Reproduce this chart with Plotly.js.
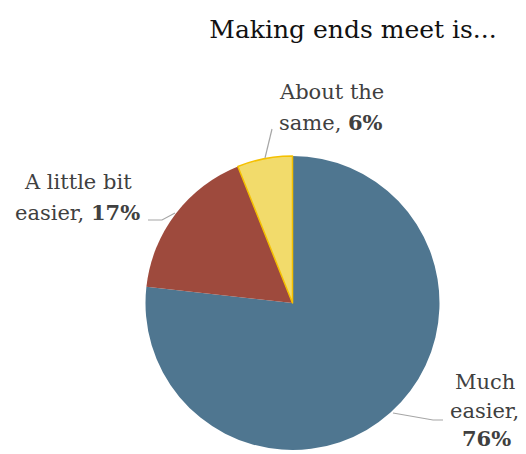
<!DOCTYPE html>
<html>
<head>
<meta charset="utf-8">
<script src="https://cdn.plot.ly/plotly-3.0.1.min.js"></script>
<style>
  html, body { margin: 0; padding: 0; background: #fff; }
  #chart { width: 526px; height: 454px; }
</style>
</head>
<body>
<div id="chart"></div>
<script>
const categories = ["Much easier", "A little bit easier", "About the same"];
const values = [76, 17, 6];
const colors = ["#4f7690", "#9e4a3d", "#f2db6b"];
const lineColors = ["rgba(0,0,0,0)", "rgba(0,0,0,0)", "#f5c000"];
const titleText = "Making ends meet is...";

const W = 526, H = 454;
const px = x => x / W;
const py = y => 1 - y / H;

const FS = 21;
const labelFont = { family: "DejaVu Serif, Georgia, serif", size: FS, color: "#404040" };

const trace = {
  type: "pie",
  labels: categories,
  values: values,
  sort: false,
  direction: "clockwise",
  rotation: 0,
  textinfo: "none",
  hoverinfo: "label+percent",
  marker: { colors: colors, line: { color: lineColors, width: [0, 0, 1.5] } },
  domain: { x: [px(292.5 - 147), px(292.5 + 147)], y: [py(450), py(156)] },
  showlegend: false
};

// one annotation per text line, placed by baseline
function line(text, x, baseline) {
  return { text: text, x: px(x), y: py(baseline - 0.36 * FS), xref: "paper", yref: "paper",
           showarrow: false, xanchor: "center", yanchor: "middle", align: "center",
           borderpad: 0, font: labelFont };
}

const annotations = [
  line("About the", 331, 100),
  line("same, <b>" + values[2] + "%</b>", 331, 130),
  line("A little bit", 78, 190),
  line("easier, <b>" + values[1] + "%</b>", 77, 220),
  line("Much", 485, 390),
  line("easier,", 484, 419),
  line("<b>" + values[0] + "%</b>", 486, 446)
];

function path(points) {
  return "M " + points.map(p => px(p[0]) + " " + py(p[1])).join(" L ");
}
const lineStyle = { color: "#a6a6a6", width: 1.2 };
const shapes = [
  { type: "path", xref: "paper", yref: "paper", path: path([[265, 158], [272, 129]]), line: lineStyle },
  { type: "path", xref: "paper", yref: "paper", path: path([[148, 220], [162, 220], [175, 213]]), line: lineStyle },
  { type: "path", xref: "paper", yref: "paper", path: path([[393, 413], [433, 420], [443, 420]]), line: lineStyle }
];

const layout = {
  width: W, height: H,
  margin: { l: 0, r: 0, t: 0, b: 0 },
  paper_bgcolor: "#ffffff",
  title: { text: titleText, x: px(353), xanchor: "center", y: py(29), yanchor: "middle",
           font: { family: "DejaVu Serif, Georgia, serif", size: 25, color: "#111111" } },
  annotations: annotations,
  shapes: shapes
};

Plotly.newPlot("chart", [trace], layout, { displayModeBar: false, staticPlot: true });
</script>
</body>
</html>
